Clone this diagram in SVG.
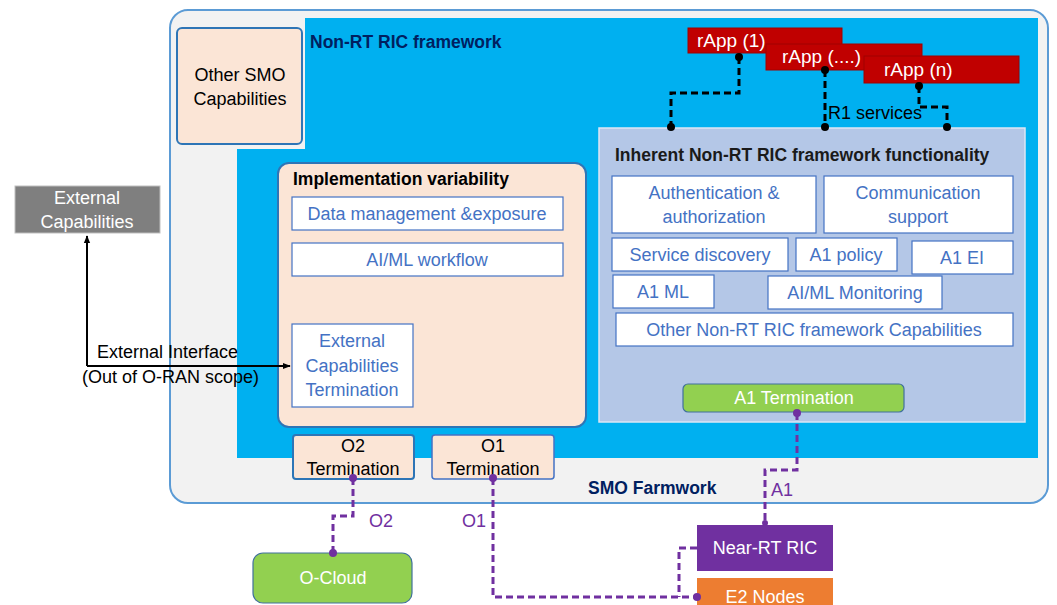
<svg xmlns="http://www.w3.org/2000/svg" width="1057" height="605" viewBox="0 0 1057 605">
<defs>
<style>
text{font-family:"Liberation Sans",Arial,sans-serif;}
.t{font-size:18px;text-anchor:middle;}
.blue{fill:#4472c4;}
.wb{fill:#ffffff;stroke:#4472c4;stroke-width:1.2;}
.peach{fill:#fbe5d6;stroke:#2e75b6;stroke-width:2;}
.bold{font-weight:bold;font-size:17.5px;}
.navy{fill:#002060;}
.rapp{fill:#c00000;stroke:#a00000;stroke-width:1;}
.rt{font-size:19px;fill:#ffffff;}
.blk{fill:none;stroke:#000;stroke-width:3;stroke-dasharray:7,4;}
.pur{fill:none;stroke:#7030a0;stroke-width:3;stroke-dasharray:7,4;}
.w{fill:#ffffff;}
.lbl{font-size:18px;}
</style>
<marker id="ah" viewBox="0 0 10 10" refX="9" refY="5" markerWidth="8" markerHeight="8" orient="auto" markerUnits="userSpaceOnUse"><path d="M0,1 L10,5 L0,9 z" fill="#000"/></marker>
</defs>

<g id="smo">
<rect x="170" y="10" width="878" height="493" rx="18" fill="#f2f2f2" stroke="#5b9bd5" stroke-width="2"/>
<text x="588" y="494" class="bold navy">SMO Farmwork</text>
</g>

<g id="nonrt">
<path d="M305,18 H1038 V458 H237 V149 H305 Z" fill="#00b0f0"/>
<text x="310" y="48" class="bold navy">Non-RT RIC framework</text>
</g>

<g id="other-smo">
<rect x="177" y="28" width="125" height="116" rx="5" class="peach"/>
<text x="240" y="81" class="t" fill="#000">Other SMO</text>
<text x="240" y="105" class="t" fill="#000">Capabilities</text>
</g>

<g id="inherent">
<rect x="599" y="128" width="426" height="294" fill="#b4c7e7" stroke="#dde6f5" stroke-width="1.5"/>
<text x="615" y="161" class="bold" fill="#1a1a1a">Inherent Non-RT RIC framework functionality</text>
</g>
<g id="auth"><rect x="612" y="176" width="204" height="57" class="wb"/><text x="714" y="199" class="t blue">Authentication &amp;</text><text x="714" y="223" class="t blue">authorization</text></g>
<g id="comm"><rect x="824" y="176" width="189" height="57" class="wb"/><text x="918" y="199" class="t blue">Communication</text><text x="918" y="223" class="t blue">support</text></g>
<g id="sd"><rect x="612" y="238" width="176" height="33" class="wb"/><text x="700" y="261" class="t blue">Service discovery</text></g>
<g id="a1p"><rect x="796" y="238" width="101" height="33" class="wb"/><text x="846" y="261" class="t blue">A1 policy</text></g>
<g id="a1ei"><rect x="912" y="241" width="101" height="33" class="wb"/><text x="962" y="264" class="t blue">A1 EI</text></g>
<g id="a1ml"><rect x="613" y="275" width="101" height="33" class="wb"/><text x="663" y="298" class="t blue">A1 ML</text></g>
<g id="aimlmon"><rect x="768" y="276" width="174" height="33" class="wb"/><text x="855" y="299" class="t blue">AI/ML Monitoring</text></g>
<g id="othernrt"><rect x="616" y="313" width="397" height="33" class="wb"/><text x="814" y="336" class="t blue">Other Non-RT RIC framework Capabilities</text></g>

<g id="a1term">
<rect x="683" y="384" width="221" height="28" rx="5" fill="#92d050" stroke="#41719c" stroke-width="1.2"/>
<text x="794" y="404" class="t w">A1 Termination</text>
</g>

<g id="impl">
<rect x="278" y="163" width="308" height="264" rx="11" class="peach"/>
<text x="293" y="185" class="bold" fill="#000">Implementation variability</text>
</g>
<g id="dme"><rect x="292" y="197" width="271" height="33" class="wb"/><text x="427" y="220" class="t blue">Data management &amp;exposure</text></g>
<g id="aimlwf"><rect x="292" y="243" width="271" height="33" class="wb"/><text x="427" y="266" class="t blue">AI/ML workflow</text></g>
<g id="ect"><rect x="292" y="324" width="121" height="83" class="wb"/><text x="352" y="347" class="t blue">External</text><text x="352" y="372" class="t blue">Capabilities</text><text x="352" y="396" class="t blue">Termination</text></g>

<g id="o2term"><rect x="293" y="435" width="121" height="44" rx="3" class="peach"/><text x="353" y="452" class="t" fill="#000">O2</text><text x="353" y="475" class="t" fill="#000">Termination</text></g>
<g id="o1term"><rect x="432" y="435" width="122" height="44" rx="3" fill="#fbe5d6" stroke="#4472c4" stroke-width="1.5"/><text x="493" y="452" class="t" fill="#000">O1</text><text x="493" y="475" class="t" fill="#000">Termination</text></g>

<g id="rapp1"><rect x="688" y="28" width="154" height="25" class="rapp"/><text x="697" y="47" class="rt">rApp (1)</text></g>
<g id="rapp2"><rect x="766" y="44" width="156" height="26" class="rapp"/><text x="782" y="63" class="rt">rApp (....)</text></g>
<g id="rappn"><rect x="864" y="56" width="155" height="27" class="rapp"/><text x="884" y="76" class="rt">rApp (n)</text></g>

<g id="extcap"><rect x="15" y="186" width="145" height="47" fill="#7f7f7f" stroke="#bfbfbf" stroke-width="1"/><text x="87" y="204" class="t w">External</text><text x="87" y="228" class="t w">Capabilities</text></g>

<g id="ocloud"><rect x="253" y="553" width="159" height="50" rx="10" fill="#92d050" stroke="#41719c" stroke-width="1.2"/><text x="333" y="584" class="t w">O-Cloud</text></g>
<g id="nearrt"><rect x="697" y="525" width="136" height="46" fill="#7030a0"/><text x="765" y="554" class="t w">Near-RT RIC</text></g>
<g id="e2"><rect x="697" y="578" width="136" height="30" fill="#ed7d31"/><text x="765" y="603" class="t w">E2 Nodes</text></g>

<g id="connectors">
<path d="M739,57 V93 H671 V127" class="blk"/>
<path d="M825,70 V127" class="blk"/>
<path d="M919,86 V107 H947 V127" class="blk"/>
<circle cx="739" cy="57" r="4"/><circle cx="671" cy="127" r="4"/>
<circle cx="825" cy="70" r="4"/><circle cx="825" cy="127" r="4"/>
<circle cx="919" cy="86" r="4"/><circle cx="947" cy="127" r="4"/>
<text x="828" y="119" class="lbl" fill="#000">R1 services</text>

<path d="M87,366 V236" fill="none" stroke="#000" stroke-width="2" marker-end="url(#ah)"/>
<path d="M87,366 H290" fill="none" stroke="#000" stroke-width="2" marker-end="url(#ah)"/>
<text x="97" y="358" class="lbl" fill="#000">External  Interface</text>
<text x="82" y="383" class="lbl" fill="#000">(Out of O-RAN scope)</text>

<path d="M797,413 V470 H765 V525" class="pur"/>
<circle cx="797" cy="413" r="4" fill="#7030a0"/>
<circle cx="765" cy="523" r="3" fill="#7030a0"/>
<text x="771" y="496" class="lbl" fill="#7030a0">A1</text>

<path d="M353,478 V516 H333 V553" class="pur"/>
<circle cx="353" cy="478" r="4" fill="#7030a0"/><circle cx="333" cy="553" r="4" fill="#7030a0"/>
<text x="369" y="527" class="lbl" fill="#7030a0">O2</text>

<path d="M493,478 V597 H697" class="pur"/>
<path d="M697,548 H679 V597" class="pur"/>
<circle cx="493" cy="478" r="4" fill="#7030a0"/><circle cx="697" cy="597" r="4" fill="#7030a0"/>
<text x="462" y="527" class="lbl" fill="#7030a0">O1</text>
</g>
</svg>
